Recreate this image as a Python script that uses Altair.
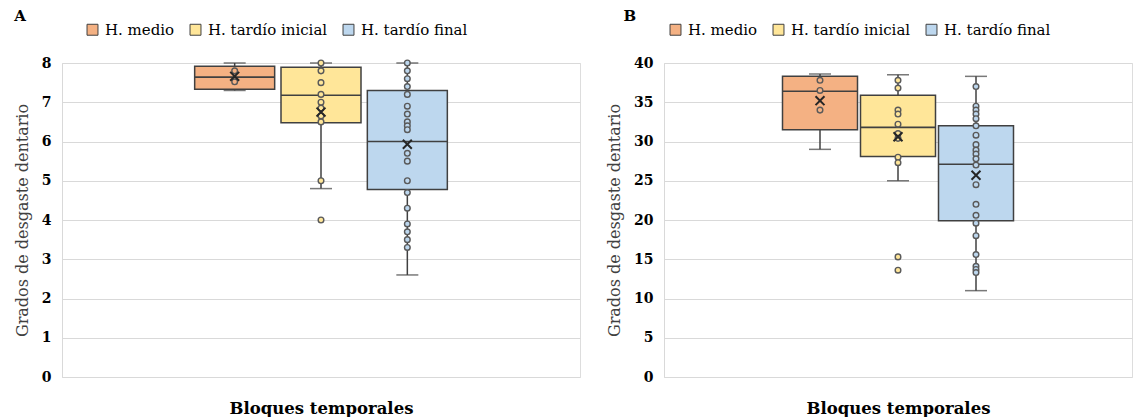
import altair as alt
import pandas as pd

categories = ["H. medio", "H. tardío inicial", "H. tardío final"]
colors = ["#F4B183", "#FFE699", "#BDD7EE"]

# Panel A (0-8 scale)
a_low = [7.30, 4.80, 2.60]
a_q1 = [7.33, 6.48, 4.78]
a_median = [7.64, 7.18, 6.00]
a_q3 = [7.92, 7.89, 7.30]
a_high = [8.00, 8.00, 8.00]
a_mean = [7.66, 6.75, 5.93]
a_points_medio = [7.80, 7.52]
a_points_inicial = [8.0, 7.8, 7.5, 7.2, 7.0, 6.85, 6.65, 6.5, 5.0, 4.0]
a_points_final = [8.0, 7.8, 7.6, 7.4, 7.2, 6.9, 6.7, 6.5, 6.4, 6.3, 5.7, 5.5,
                  5.0, 4.7, 4.3, 3.9, 3.7, 3.5, 3.3]
a_ticks = [0, 1, 2, 3, 4, 5, 6, 7, 8]

# Panel B (0-40 scale)
b_low = [29.0, 25.0, 11.0]
b_q1 = [31.5, 28.1, 19.9]
b_median = [36.4, 31.8, 27.1]
b_q3 = [38.3, 35.9, 32.0]
b_high = [38.6, 38.5, 38.3]
b_mean = [35.2, 30.6, 25.7]
b_points_medio = [37.8, 36.5, 34.0]
b_points_inicial = [37.8, 36.8, 34.0, 33.5, 32.2, 31.0, 30.4, 28.0, 27.3, 15.3, 13.6]
b_points_final = [37.0, 34.5, 34.0, 33.5, 32.9, 32.0, 30.8, 29.6, 28.9, 28.4,
                  27.8, 27.0, 24.5, 22.0, 20.6, 19.6, 18.0, 15.6, 14.1, 13.7, 13.3]
b_ticks = [0, 5, 10, 15, 20, 25, 30, 35, 40]

FONT = "DejaVu Serif"
DARK = "#404040"
X_SHAPE = "M-1,-1L1,1M-1,1L1,-1"
SLOTS = ["·1"] + categories + ["·2"]


def panel(label, low, q1, med, q3, high, mean, pts, ymax, ticks, width, box_w,
          legend_x, title_dx):
    box = pd.DataFrame({"cat": categories, "low": low, "q1": q1, "med": med,
                        "q3": q3, "high": high, "mean": mean})
    rows = []
    for c, p in zip(categories, pts):
        for v in p:
            rows.append({"cat": c, "v": v})
    points = pd.DataFrame(rows)

    step = width / 6.0
    pad_inner = 1 - box_w / step
    pad_outer = (1 + pad_inner) / 2
    xscale = alt.Scale(domain=SLOTS, paddingInner=pad_inner, paddingOuter=pad_outer)
    x = alt.X("cat:N", scale=xscale,
              axis=alt.Axis(title="Bloques temporales", labels=False, ticks=False,
                            domain=False, grid=False, titleFont=FONT,
                            titleFontWeight="bold", titleFontSize=16.5,
                            titleColor="#000000", titlePadding=23))
    y_scale = alt.Scale(domain=[0, ymax], nice=False, zero=True)
    y_axis = alt.Axis(title="Grados de desgaste dentario", values=ticks,
                      tickCount=len(ticks), labelOverlap=False,
                      grid=True, gridColor="#D9D9D9", domainColor="#D9D9D9",
                      ticks=False, labelFont=FONT, labelFontWeight="bold",
                      labelFontSize=14, labelColor="#000000", labelPadding=11,
                      titleFont=FONT, titleFontWeight="normal", titleFontSize=16,
                      titleColor="#404040", titlePadding=11)

    def Y(field):
        return alt.Y(field, scale=y_scale, axis=y_axis)

    color = alt.Fill("cat:N", scale=alt.Scale(domain=categories, range=colors),
                     legend=alt.Legend(title=None, orient="none", direction="horizontal",
                                       legendX=legend_x, legendY=-41,
                                       symbolType="square", symbolSize=120,
                                       symbolStrokeColor=DARK, symbolStrokeWidth=1,
                                       labelFont=FONT, labelFontSize=15,
                                       labelColor="#000000", columnPadding=13,
                                       labelOffset=5))

    base_box = alt.Chart(box)
    whisker = base_box.mark_rule(color=DARK, strokeWidth=1.5).encode(
        x=x, y=Y("low:Q"), y2="high:Q")
    caps_lo = base_box.mark_tick(color=DARK, size=22, thickness=1.5).encode(
        x="cat:N", y=Y("low:Q"))
    caps_hi = base_box.mark_tick(color=DARK, size=22, thickness=1.5).encode(
        x="cat:N", y=Y("high:Q"))
    bars = base_box.mark_bar(stroke=DARK, strokeWidth=1.5, opacity=1).encode(
        x="cat:N", y=Y("q1:Q"), y2="q3:Q", fill=color)
    median = base_box.mark_bar(stroke=DARK, strokeWidth=1.6, fillOpacity=0).encode(
        x="cat:N", y=Y("med:Q"), y2="med:Q")
    dots = alt.Chart(points).mark_point(filled=False, size=32, strokeWidth=1.4,
                                        stroke="#595959", opacity=1).encode(
        x="cat:N", y=Y("v:Q"),
        fill=alt.Fill("cat:N", scale=alt.Scale(domain=categories, range=colors),
                      legend=None))
    means = base_box.mark_point(shape=X_SHAPE, size=80, filled=False,
                                stroke="#262626", strokeWidth=2, opacity=1).encode(
        x="cat:N", y=Y("mean:Q"))

    return alt.layer(whisker, caps_lo, caps_hi, bars, median, dots, means).properties(
        width=width, height=314,
        title=alt.Title(label, anchor="start", font=FONT, fontSize=15,
                        fontWeight="bold", color="#000000", dx=title_dx, offset=-2))


chart_a = panel("A", a_low, a_q1, a_median, a_q3, a_high, a_mean,
                [a_points_medio, a_points_inicial, a_points_final], 8, a_ticks,
                518, 80, 23, 0)
chart_b = panel("B", b_low, b_q1, b_median, b_q3, b_high, b_mean,
                [b_points_medio, b_points_inicial, b_points_final], 40, b_ticks,
                468, 75, 4, 17)

chart = alt.hconcat(chart_a, chart_b, spacing=25).resolve_scale(
    fill="independent").resolve_legend(fill="independent").properties(
    padding={"left": 5, "top": 0, "right": 0, "bottom": 0}).configure_view(
    stroke=None).configure(background="white")

chart.save("out.html", embed_options={"renderer": "svg", "actions": False})
